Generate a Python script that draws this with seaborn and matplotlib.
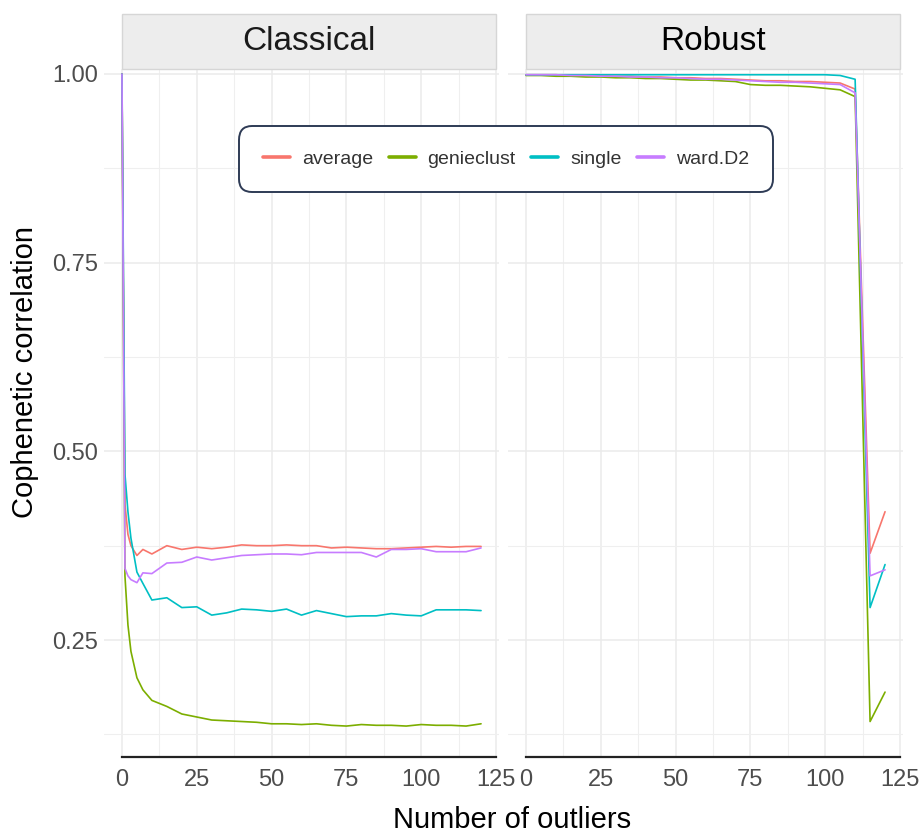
import numpy as np
import pandas as pd
import matplotlib
matplotlib.use('Agg')
import matplotlib.pyplot as plt
import matplotlib.transforms as mtransforms
from matplotlib.patches import Rectangle
import seaborn as sns

# ============================================================================
# Data
# ============================================================================
METHODS = ['average', 'genieclust', 'single', 'ward.D2']
COLORS = ['#F8766D', '#7CAE00', '#00BFC4', '#C77CFF']

CLASSICAL_X = [0, 1, 2, 3, 5, 7, 10, 15, 20, 25, 30, 35, 40, 45, 50, 55, 60,
               65, 70, 75, 80, 85, 90, 95, 100, 105, 110, 115, 120]
classical_average = [1.0, 0.43, 0.39, 0.375, 0.362, 0.370, 0.364, 0.375, 0.370,
                     0.373, 0.371, 0.373, 0.376, 0.375, 0.375, 0.376, 0.375, 0.375,
                     0.372, 0.373, 0.372, 0.371, 0.371, 0.372, 0.373, 0.374, 0.373,
                     0.374, 0.374]
classical_genieclust = [1.0, 0.335, 0.27, 0.235, 0.20, 0.184, 0.170, 0.162, 0.152,
                        0.148, 0.144, 0.143, 0.142, 0.141, 0.139, 0.139, 0.138, 0.139,
                        0.137, 0.136, 0.138, 0.137, 0.137, 0.136, 0.138, 0.137, 0.137,
                        0.136, 0.139]
classical_single = [1.0, 0.47, 0.42, 0.385, 0.34, 0.325, 0.303, 0.306, 0.293,
                    0.294, 0.283, 0.286, 0.291, 0.290, 0.288, 0.291, 0.283, 0.289,
                    0.285, 0.281, 0.282, 0.282, 0.285, 0.283, 0.282, 0.290, 0.290,
                    0.290, 0.289]
classical_ward = [1.0, 0.345, 0.335, 0.330, 0.326, 0.339, 0.338, 0.352, 0.353,
                  0.360, 0.356, 0.359, 0.362, 0.363, 0.364, 0.364, 0.363, 0.366,
                  0.366, 0.366, 0.366, 0.360, 0.370, 0.370, 0.371, 0.367, 0.367,
                  0.367, 0.372]

ROBUST_X = [0, 5, 10, 15, 20, 25, 30, 35, 40, 45, 50, 55, 60, 65, 70, 75, 80,
            85, 90, 95, 100, 105, 110, 115, 120]
robust_average = [0.999, 0.999, 0.999, 0.998, 0.998, 0.998, 0.997, 0.997, 0.996,
                  0.996, 0.995, 0.995, 0.994, 0.994, 0.993, 0.992, 0.991, 0.991,
                  0.990, 0.990, 0.989, 0.988, 0.980, 0.365, 0.420]
robust_genieclust = [0.998, 0.998, 0.997, 0.997, 0.996, 0.996, 0.995, 0.995, 0.994,
                     0.994, 0.993, 0.992, 0.992, 0.991, 0.990, 0.986, 0.985, 0.985,
                     0.984, 0.983, 0.981, 0.979, 0.970, 0.142, 0.181]
robust_single = [0.999, 0.999, 0.999, 0.999, 0.999, 0.999, 0.999, 0.999, 0.999,
                 0.999, 0.999, 0.999, 0.999, 0.999, 0.999, 0.999, 0.999, 0.999,
                 0.999, 0.999, 0.999, 0.998, 0.993, 0.293, 0.350]
robust_ward = [0.999, 0.999, 0.999, 0.998, 0.998, 0.997, 0.997, 0.996, 0.996,
               0.995, 0.995, 0.994, 0.993, 0.993, 0.992, 0.991, 0.990, 0.989,
               0.989, 0.988, 0.987, 0.986, 0.975, 0.335, 0.343]

PANELS = ['Classical', 'Robust']
X_TICKS = [0, 25, 50, 75, 100, 125]
Y_TICKS = [0.25, 0.50, 0.75, 1.00]


def long_frame(x, series):
    rows = []
    for method, vals in zip(METHODS, series):
        for xi, yi in zip(x, vals):
            rows.append({'outliers': xi, 'corr': yi, 'method': method})
    return pd.DataFrame(rows)


frames = {
    'Classical': long_frame(CLASSICAL_X, [classical_average, classical_genieclust,
                                          classical_single, classical_ward]),
    'Robust': long_frame(ROBUST_X, [robust_average, robust_genieclust,
                                    robust_single, robust_ward]),
}

# ============================================================================
# Plot
# ============================================================================
sns.set_theme(style='white')
plt.rcParams['font.family'] = ['Liberation Sans', 'DejaVu Sans']

W, H = 922, 833
fig = plt.figure(figsize=(W / 100, H / 100), dpi=100)
palette = dict(zip(METHODS, COLORS))

ax_bottom = 1 - 757 / H
ax_height = 688 / H
axes = [fig.add_axes([104 / W, ax_bottom, 395 / W, ax_height]),
        fig.add_axes([508 / W, ax_bottom, 395 / W, ax_height])]

for i, (ax, panel) in enumerate(zip(axes, PANELS)):
    sns.lineplot(data=frames[panel], x='outliers', y='corr', hue='method',
                 hue_order=METHODS, palette=palette, estimator=None,
                 linewidth=1.2, ax=ax, legend=(i == 0))
    ax.set_xlim(-6, 126)
    ax.set_ylim(0.095, 1.0066)
    ax.set_xticks(X_TICKS)
    ax.set_xticks([12.5, 37.5, 62.5, 87.5, 112.5], minor=True)
    ax.set_yticks(Y_TICKS)
    ax.set_yticks([0.125, 0.375, 0.625, 0.875], minor=True)
    ax.grid(which='major', color='#EBEBEB', linewidth=1.1)
    ax.grid(which='minor', color='#EFEFEF', linewidth=0.8)
    ax.set_axisbelow(True)
    for side in ['top', 'right', 'left']:
        ax.spines[side].set_visible(False)
    ax.spines['bottom'].set_color('#222222')
    ax.spines['bottom'].set_linewidth(1.6)
    ax.spines['bottom'].set_bounds(0, 125)
    ax.tick_params(axis='both', which='both', length=0, labelsize=17,
                   labelcolor='#4D4D4D')
    ax.tick_params(axis='x', pad=9)
    ax.tick_params(axis='y', pad=4)
    ax.set_xlabel('')
    ax.set_ylabel('')
    if i == 0:
        ax.set_yticklabels(['0.25', '0.50', '0.75', '1.00'])
    else:
        ax.set_yticklabels([])

    # facet strip
    trans = mtransforms.blended_transform_factory(ax.transData, ax.transAxes)
    ax.add_patch(Rectangle((0, 1.0), 125, 55 / 688, transform=trans,
                           facecolor='#EDEDED', edgecolor='#D6D6D6',
                           linewidth=1.0, clip_on=False))
    ax.text(62.5, 1.0 + 27.5 / 688, panel, transform=trans, ha='center',
            va='center', fontsize=24, color='#1A1A1A' if i == 0 else 'black')

handles, labels = axes[0].get_legend_handles_labels()
axes[0].get_legend().remove()
leg = fig.legend(handles, labels, loc='center', ncol=4,
                 bbox_to_anchor=(506 / W, 1 - 159 / H), fontsize=14,
                 frameon=True, fancybox=True, borderpad=1.25,
                 handlelength=1.4, handletextpad=0.6, columnspacing=0.8)
frame = leg.get_frame()
frame.set_boxstyle('round', pad=0, rounding_size=0.7)
frame.set_edgecolor('#2E3B55')
frame.set_linewidth(1.4)
frame.set_alpha(1)
for line in leg.get_lines():
    line.set_linewidth(2.6)
for txt in leg.get_texts():
    txt.set_color('#333333')

fig.text(512 / W, 1 - 820 / H, 'Number of outliers', ha='center', va='center',
         fontsize=21, color='black')
fig.text(25 / W, 1 - 372 / H, 'Cophenetic correlation', ha='center',
         va='center', rotation=90, fontsize=21, color='black')

fig.savefig('out.png', dpi=100)
